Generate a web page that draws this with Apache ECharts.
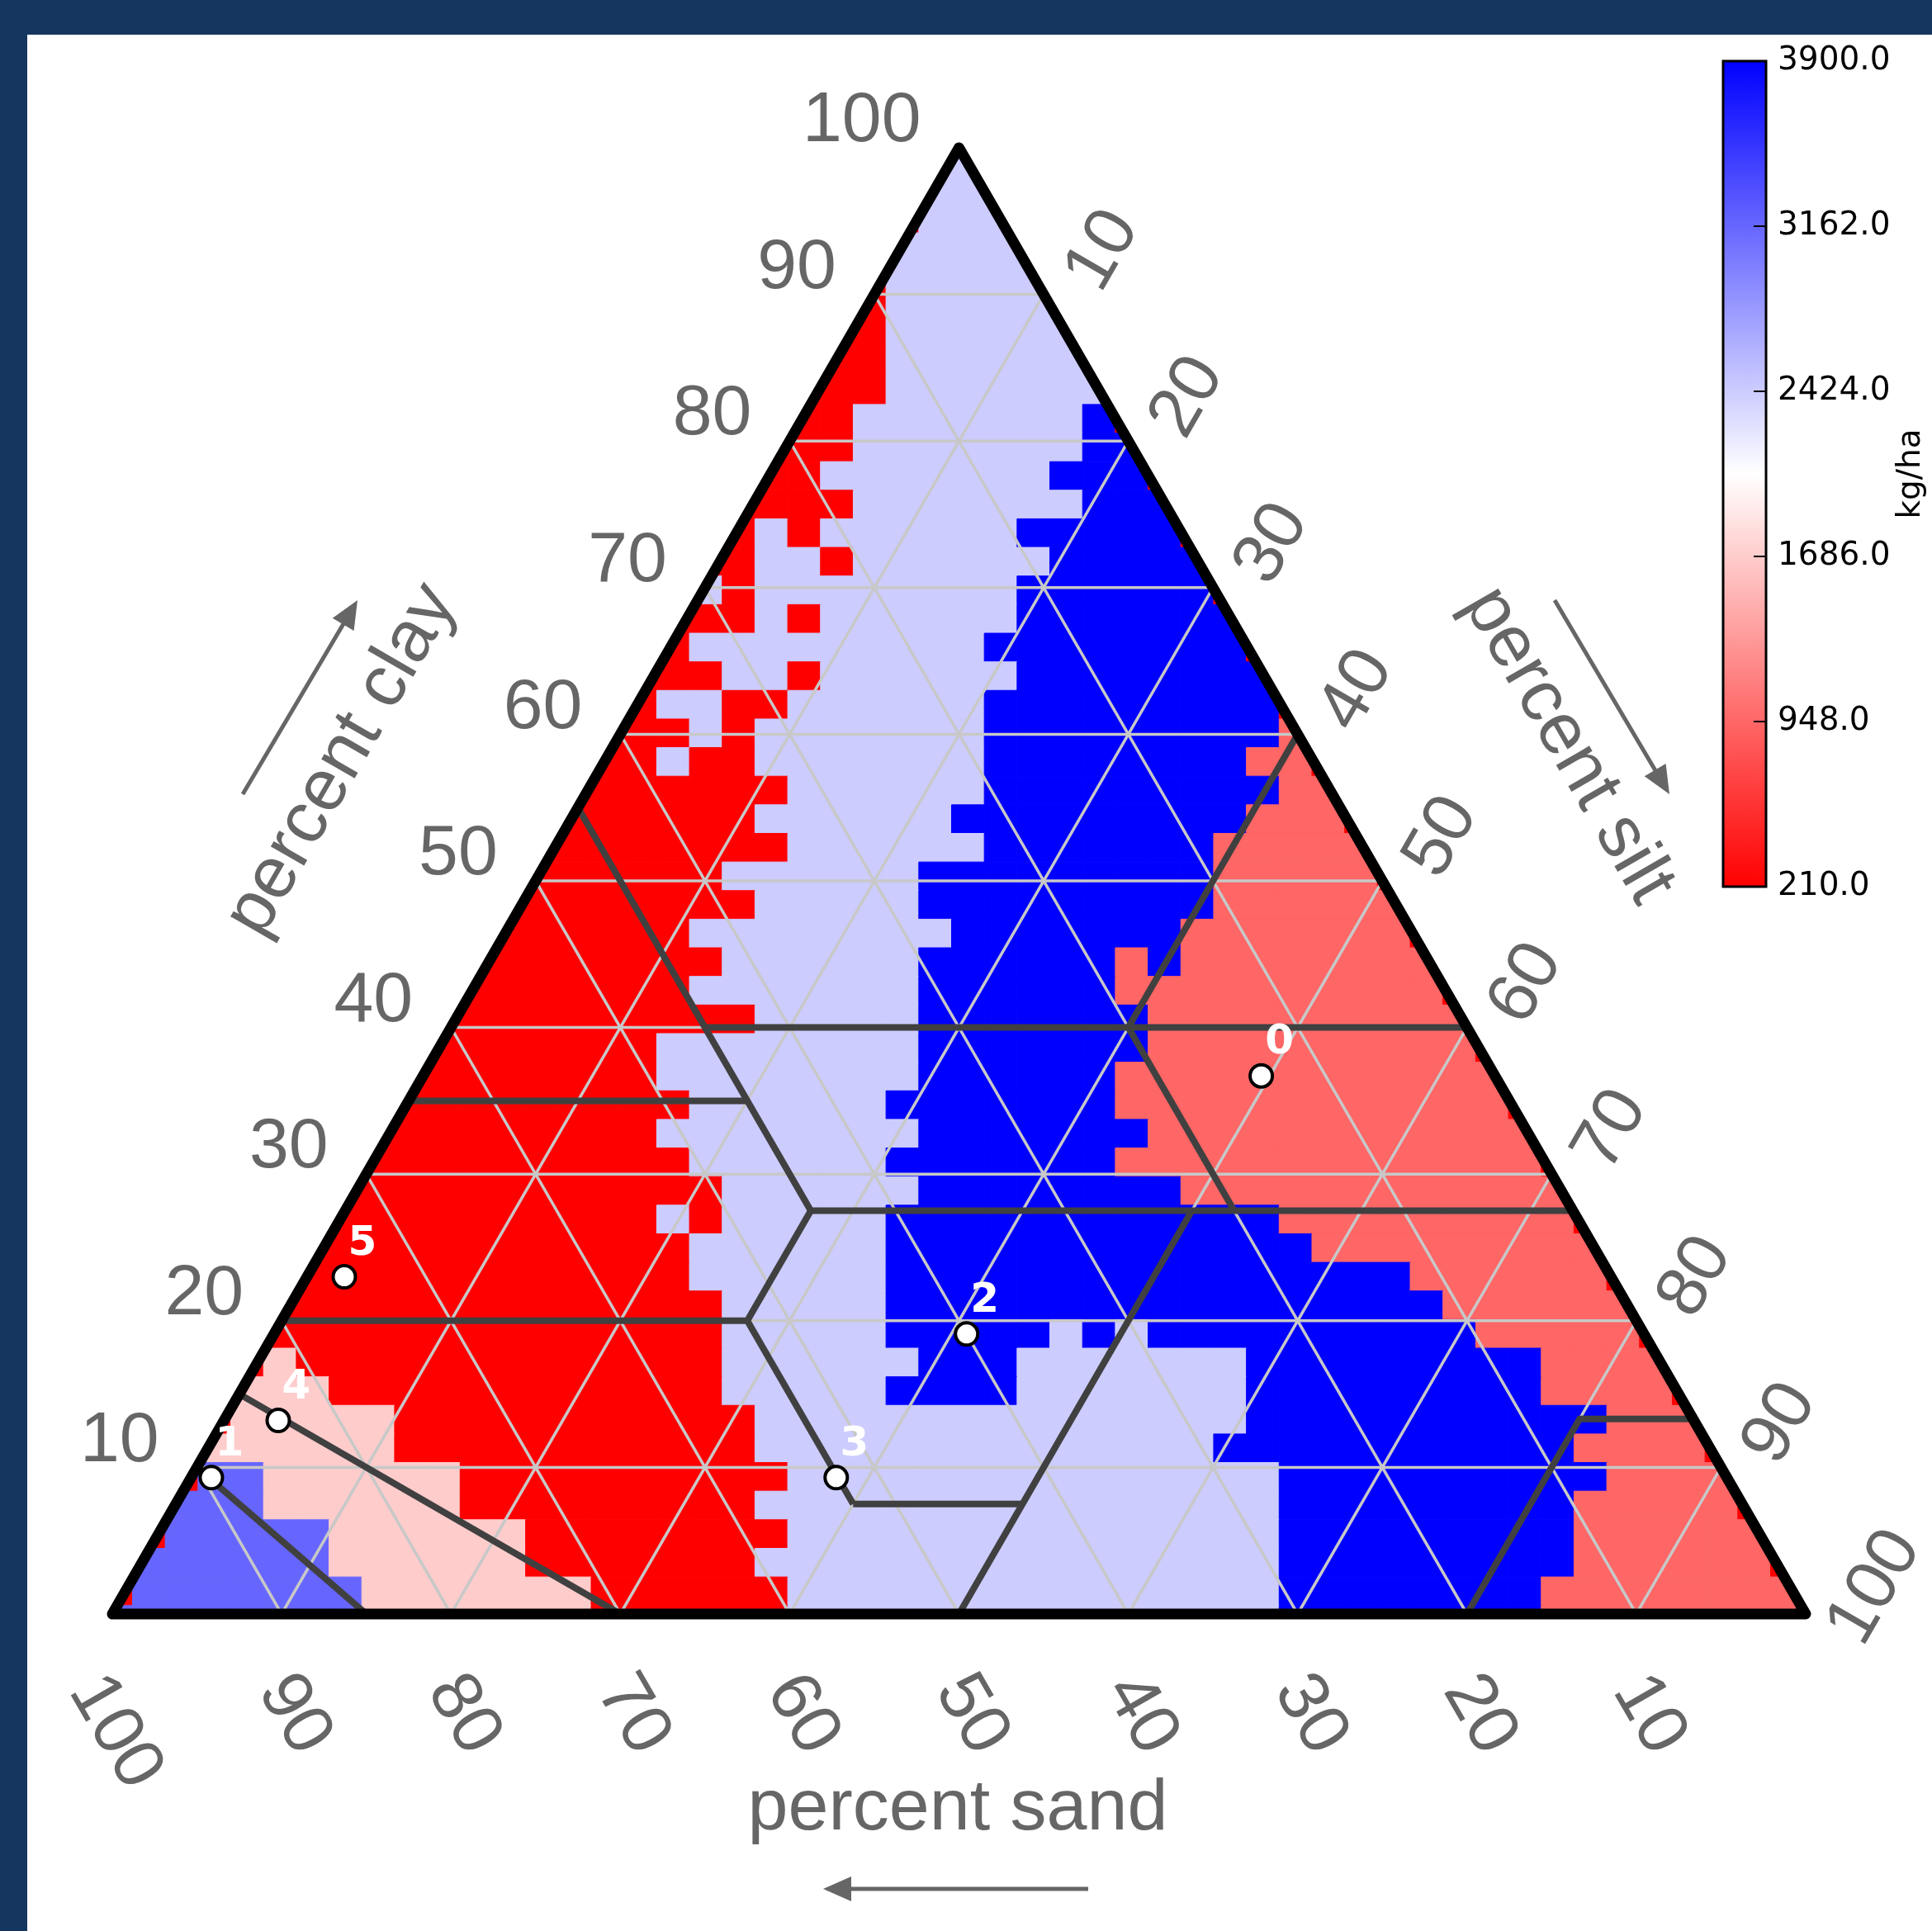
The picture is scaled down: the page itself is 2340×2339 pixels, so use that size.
<!DOCTYPE html>
<html>
<head>
<meta charset="utf-8">
<script src="https://cdn.jsdelivr.net/npm/echarts@6/dist/echarts.min.js"></script>
<style>
html,body{margin:0;padding:0;background:#ffffff;}
#c{width:2340px;height:2339px;}
</style>
</head>
<body>
<div id="c"></div>
<script>
// ---------------- DATA ----------------
// Heatmap cells, one run-length string per grid row (top row first).
// Codes: R=210, L=948, P=1686, V=2424, M=3162, B=3900 (kg/ha)
const cellRows = [
  "25R2V26R","25R3V25R","25R3V25R","24R5V24R","24R5V24R",
  "24R6V23R","24R6V23R","24R7V22R","24R7V22R","23R7V1B22R",
  "23R7V2B21R","22R7V3B21R","23R7V3B20R","20R1V1R6V5B20R","20R2V1R6V5B19R",
  "18R1V1R8V6B19R","20R1V1R6V7B18R","18R9V8B18R","19R2V1R6V8B17R","17R2V2R6V9B17R",
  "18R1V1R7V9B1L16R","17R1V2R7V8B2L16R","21R6V9B2L15R","20R6V9B3L15R","21R6V7B5L14R",
  "19R6V9B5L14R","20R5V9B6L13R","18R8V7B7L13R","19R6V6B1L1B8L12R","18R7V6B10L12R",
  "20R5V7B10L11R","17R8V7B10L11R","17R8V6B12L10R","18R6V7B12L10R","17R8V7B12L9R",
  "18R6V7B13L9R","19R6V8B12L8R","17R1V1R5V12B9L8R","18R6V13B9L7R","18R6V16B6L7R",
  "19R5V17B6L6R","19R5V5B1V1B1V10B5L6R","5R1P13R6V3B7V9B4L5R","4R3P12R5V4B7V9B4L5R","4R5P11R15V11B3L4R",
  "3R6P11R14V11B4L4R","3R2M6P10R15V10B4L3R","2R3M6P9R16V9B5L3R","2R5M6P8R15V9B6L2R","1R6M6P7R16V9B6L2R",
  "1R7M7P6R15V8B8L1R","8M7P6R15V8B8L1R"
];
const cellCodes  = ["R", "L", "P", "V", "M", "B"];
const cellValues = [210, 948, 1686, 2424, 3162, 3900];

// sample points (percent)
const pointLabels = ["0", "1", "2", "3", "4", "5"];
const pointSand = [13.8, 89.5, 40.0, 52.6, 83.6, 74.8];
const pointSilt = [49.5, 1.2, 40.9, 38.1, 3.2, 2.2];
const pointClay = [36.7, 9.3, 19.1, 9.3, 13.2, 23.0];

// gridlines and tick labels (percent)
const gridTicks = [10, 20, 30, 40, 50, 60, 70, 80, 90];
const axisTickLabels = [10, 20, 30, 40, 50, 60, 70, 80, 90, 100];

// texture class boundaries as [sand, clay] polylines
const boundaryLines = [
  [[45, 55], [45, 27.5]],
  [[45, 40], [0, 40]],
  [[65, 35], [45, 35]],
  [[45, 27.5], [0, 27.5]],
  [[45, 27.5], [52.5, 20]],
  [[80, 20], [52.5, 20]],
  [[52.5, 20], [52.5, 7.5]],
  [[52.5, 7.5], [42.5, 7.5]],
  [[50, 0], [22.5, 27.5]],
  [[20, 40], [0, 60]],
  [[20, 40], [20, 27.5]],
  [[20, 0], [6.7, 13.3], [0, 13.3]],
  [[85, 15], [70, 0]],
  [[90, 10], [85, 0]]
];

// colour bar
const colorbarTicks = [210, 948, 1686, 2424, 3162, 3900];
const colormap = ["#ff0000", "#ffffff", "#0000ff"];

// ---------------- LAYOUT ----------------
const GX0 = -0.741, GDX = 1.9347, GY0 = 100.05, GDY = 1.9505; // heatmap cell grid (axis units)
const GRAY = "#666666";
const TICK_FONT = '86px "Liberation Sans", Arial, sans-serif';
const TITLE_FONT = '88px "Liberation Sans", Arial, sans-serif';

function parseRow(s) {
  const out = [];
  s.replace(/(\d+)([A-Z])/g, (_, n, c) => { for (let i = 0; i < +n; i++) out.push(c); return ""; });
  return out;
}
const cellData = [];
cellRows.forEach((s, m) => parseRow(s).forEach((code, k) => {
  cellData.push([k, m, cellValues[cellCodes.indexOf(code)]]);
}));

function clipPoly(pts) {
  const planes = [p => p[1], p => p[0] - p[1] / 2, p => 100 - p[0] - p[1] / 2];
  let out = pts;
  for (const f of planes) {
    const inp = out; out = [];
    for (let i = 0; i < inp.length; i++) {
      const a = inp[i], b = inp[(i + 1) % inp.length];
      const fa = f(a), fb = f(b);
      if (fa >= 0) out.push(a);
      if ((fa >= 0) !== (fb >= 0)) {
        const t = fa / (fa - fb);
        out.push([a[0] + t * (b[0] - a[0]), a[1] + t * (b[1] - a[1])]);
      }
    }
    if (!out.length) break;
  }
  return out;
}
function sandClay(s, c) { return [100 - s - c / 2, c]; }

const gridLineData = [];
[0, 1, 2].forEach(d => gridTicks.forEach(t => gridLineData.push([d, t])));
const tickLabelData = [];
[0, 1, 2].forEach(a => axisTickLabels.forEach(v => tickLabelData.push([a, v])));
const pointData = pointLabels.map((l, i) => [pointSilt[i] + pointClay[i] / 2, pointClay[i], l]);

function arrow(tail, head) {
  const dx = head[0] - tail[0], dy = head[1] - tail[1];
  const L = Math.hypot(dx, dy), ux = dx / L, uy = dy / L, px = -uy, py = ux;
  const hl = 34, hw = 30;
  const bx = head[0] - ux * hl, by = head[1] - uy * hl;
  return [
    { type: "line", shape: { x1: tail[0], y1: tail[1], x2: bx + ux * 6, y2: by + uy * 6 },
      style: { stroke: GRAY, lineWidth: 5 } },
    { type: "polygon", shape: { points: [head, [bx + px * hw / 2, by + py * hw / 2], [bx - px * hw / 2, by - py * hw / 2]] },
      style: { fill: GRAY } }
  ];
}

const chart = echarts.init(document.getElementById("c"));
chart.setOption({
  backgroundColor: "#ffffff",
  animation: false,
  grid: [
    { left: 136, top: 179, width: 2051, height: 1776 },
    { left: 2087, top: 74, width: 52, height: 1000 }
  ],
  xAxis: [
    { type: "value", min: 0, max: 100, show: false, gridIndex: 0 },
    { type: "value", min: 0, max: 1, show: false, gridIndex: 1 }
  ],
  yAxis: [
    { type: "value", min: 0, max: 100, show: false, gridIndex: 0 },
    { type: "value", min: 0, max: 5, interval: 1, gridIndex: 1, position: "right",
      axisLine: { show: false },
      axisTick: { show: false },
      splitLine: { show: false },
      axisLabel: { formatter: v => colorbarTicks[Math.round(v)].toFixed(1), color: "#000",
                   fontSize: 39, fontFamily: "DejaVu Sans", margin: 14 } }
  ],
  visualMap: {
    type: "continuous", show: false, min: colorbarTicks[0], max: colorbarTicks[colorbarTicks.length - 1],
    dimension: 2, seriesIndex: 0, inRange: { color: colormap }
  },
  graphic: [
    { type: "rect", shape: { x: 0, y: 0, width: 2340, height: 42 }, style: { fill: "#15365e" }, z: 100 },
    { type: "rect", shape: { x: 0, y: 0, width: 33, height: 2339 }, style: { fill: "#15365e" }, z: 100 },
    { type: "text", x: 1160, y: 2192, style: { text: "percent sand", font: TITLE_FONT, fill: GRAY, align: "center", verticalAlign: "middle" } },
    { type: "text", x: 414, y: 921, rotation: Math.PI / 3, style: { text: "percent clay", font: TITLE_FONT, fill: GRAY, align: "center", verticalAlign: "middle" } },
    { type: "text", x: 1899, y: 903, rotation: -Math.PI / 3, style: { text: "percent silt", font: TITLE_FONT, fill: GRAY, align: "center", verticalAlign: "middle" } },
    { type: "text", x: 2315, y: 574, rotation: Math.PI / 2, style: { text: "kg/ha", font: '39px "DejaVu Sans"', fill: "#000", align: "center", verticalAlign: "middle" } },
    ...arrow([1318, 2288], [997, 2288]),
    ...arrow([294, 962], [433, 727]),
    ...arrow([1883, 727], [2022, 962])
  ],
  series: [
    { // heatmap cells
      type: "custom", xAxisIndex: 0, yAxisIndex: 0, silent: true, z: 1,
      data: cellData,
      renderItem: (params, api) => {
        const k = api.value(0), m = api.value(1);
        const x0 = GX0 + k * GDX, x1 = x0 + GDX, yT = GY0 - m * GDY, yB = yT - GDY;
        const poly = clipPoly([[x0, yB], [x1, yB], [x1, yT], [x0, yT]]);
        if (poly.length < 3) return null;
        const c = api.visual("color");
        return { type: "polygon", shape: { points: poly.map(p => api.coord(p)) },
                 style: { fill: c, stroke: c, lineWidth: 1 } };
      }
    },
    { // light gridlines
      type: "custom", xAxisIndex: 0, yAxisIndex: 0, silent: true, z: 2,
      data: gridLineData,
      renderItem: (params, api) => {
        const d = api.value(0), t = api.value(1);
        let a, b;
        if (d === 0) { a = [t / 2, t]; b = [100 - t / 2, t]; }
        else if (d === 1) { a = [t, 0]; b = [t + (100 - t) / 2, 100 - t]; }
        else { a = [100 - t, 0]; b = [(100 - t) / 2, 100 - t]; }
        const p = api.coord(a), q = api.coord(b);
        return { type: "line", shape: { x1: p[0], y1: p[1], x2: q[0], y2: q[1] },
                 style: { stroke: "#c8c8c8", lineWidth: 3.5 } };
      }
    },
    { // texture class boundaries
      type: "custom", xAxisIndex: 0, yAxisIndex: 0, silent: true, z: 3,
      data: boundaryLines.map((l, i) => [i]),
      renderItem: (params, api) => {
        const line = boundaryLines[params.dataIndex];
        return { type: "polyline", shape: { points: line.map(p => api.coord(sandClay(p[0], p[1]))) },
                 style: { stroke: "#404040", lineWidth: 8, fill: null, lineJoin: "miter" } };
      }
    },
    { // triangle border
      type: "custom", xAxisIndex: 0, yAxisIndex: 0, silent: true, z: 4,
      data: [[0]],
      renderItem: (params, api) => ({
        type: "polygon", shape: { points: [api.coord([0, 0]), api.coord([100, 0]), api.coord([50, 100])] },
        style: { fill: null, stroke: "#000000", lineWidth: 13, lineJoin: "round" }
      })
    },
    { // sample points
      type: "scatter", xAxisIndex: 0, yAxisIndex: 0, z: 5, silent: true,
      data: pointData, symbol: "circle", symbolSize: 27,
      itemStyle: { color: "#ffffff", borderColor: "#000000", borderWidth: 4, opacity: 1 },
      label: { show: true, formatter: p => p.data[2], position: "inside", offset: [22, -40],
               color: "#ffffff", fontSize: 50, fontWeight: "bold", fontFamily: "DejaVu Sans" }
    },
    { // tick labels
      type: "custom", xAxisIndex: 0, yAxisIndex: 0, silent: true, z: 6,
      data: tickLabelData,
      renderItem: (params, api) => {
        const a = api.value(0), v = api.value(1);
        const txt = String(v), extra = txt.length - 2;
        if (a === 0) {
          const p = api.coord([v / 2, v]);
          return { type: "text", x: p[0] - 46, y: p[1] - 31.5,
                   style: { text: txt, font: TICK_FONT, fill: GRAY, align: "right", verticalAlign: "middle" } };
        } else if (a === 1) {
          const p = api.coord([v + (100 - v) / 2, 100 - v]);
          return { type: "text", x: p[0] + 72 + 12 * extra, y: p[1] - 53 + 21 * extra, rotation: Math.PI / 3,
                   style: { text: txt, font: TICK_FONT, fill: GRAY, align: "center", verticalAlign: "middle" } };
        } else {
          const p = api.coord([100 - v, 0]);
          return { type: "text", x: p[0] + 15 - 12 * extra, y: p[1] + 122 + 21 * extra, rotation: -Math.PI / 3,
                   style: { text: txt, font: TICK_FONT, fill: GRAY, align: "center", verticalAlign: "middle" } };
        }
      }
    },
    { // colour bar
      type: "custom", xAxisIndex: 1, yAxisIndex: 1, silent: true, z: 1,
      data: [[0]],
      renderItem: (params, api) => {
        const p = api.coord([0, 5]), q = api.coord([1, 0]);
        const children = [{
          type: "rect", shape: { x: p[0], y: p[1], width: q[0] - p[0], height: q[1] - p[1] },
          style: { fill: new echarts.graphic.LinearGradient(0, 0, 0, 1, [
                     { offset: 0, color: colormap[2] }, { offset: 0.5, color: colormap[1] }, { offset: 1, color: colormap[0] }]),
                   stroke: "#000000", lineWidth: 3 }
        }];
        for (let i = 1; i < colorbarTicks.length - 1; i++) {
          const y = api.coord([1, i])[1];
          children.push({ type: "line", shape: { x1: q[0] - 15, y1: y, x2: q[0], y2: y },
                          style: { stroke: "#000000", lineWidth: 2 } });
        }
        return { type: "group", children: children };
      }
    }
  ]
});
</script>
</body>
</html>
